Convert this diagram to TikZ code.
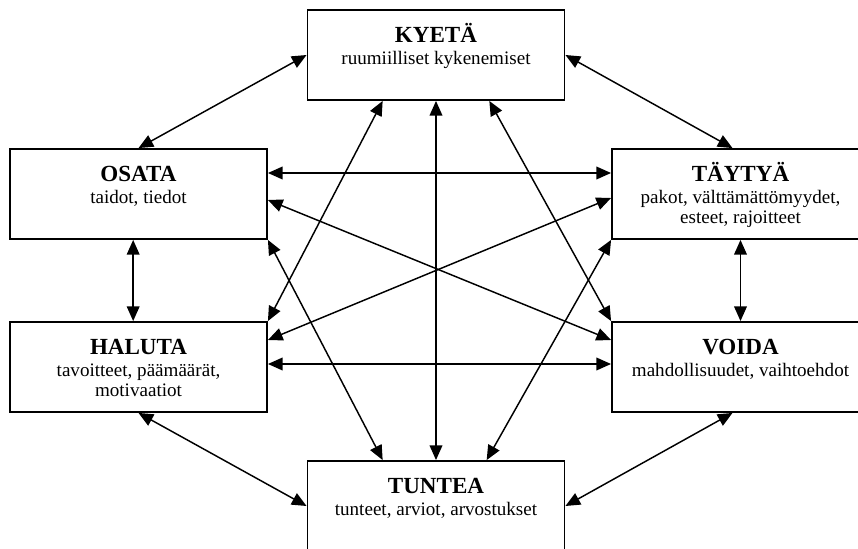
\documentclass[tikz,border=0pt]{standalone}
\usepackage{fontspec}
\setmainfont{Liberation Serif}
\usetikzlibrary{positioning, arrows.meta, calc}

\begin{document}
\begin{tikzpicture}[
    x=0.75pt, y=-0.75pt, % pixel grid of the reference, y pointing down
    box/.style={draw, line width=1.4pt, minimum width=192.75pt, minimum height=67.5pt, inner sep=0pt},
    titlestyle/.style={font=\fontsize{17.3pt}{20pt}\selectfont\bfseries, inner sep=0pt},
    textstyle/.style={font=\fontsize{14.3pt}{15pt}\selectfont, align=center, inner sep=0pt},
    link/.style={{Triangle[length=11pt, width=9.5pt]}-{Triangle[length=11pt, width=9.5pt]}, line width=1.1pt}
]
\clip (0,0) rectangle (858,549);

% Boxes
\node (kyeta_box) [box] at (436,55) {};
\node (osata_box) [box] at (138.5,194) {};
\node (taytya_box) [box] at (740.5,194) {};
\node (haluta_box) [box] at (138.5,367) {};
\node (voida_box) [box] at (740.5,367) {};
\node (tuntea_box) [box] at (436,506) {};

% Titles and descriptions (two-line texts sit on their last baseline)
\node (kyeta_title) [titlestyle, below=24.75pt of kyeta_box.north, anchor=base] {KYETÄ};
\node (kyeta_text) [textstyle, below=16.5pt of kyeta_title.base, anchor=base] {ruumiilliset kykenemiset};

\node (osata_title) [titlestyle, below=24.75pt of osata_box.north, anchor=base] {OSATA};
\node (osata_text) [textstyle, below=16.5pt of osata_title.base, anchor=base] {taidot, tiedot};

\node (taytya_title) [titlestyle, below=24.75pt of taytya_box.north, anchor=base] {TÄYTYÄ};
\node (taytya_text) [textstyle, below=31.5pt of taytya_title.base, anchor=base] {pakot, välttämättömyydet,\\ esteet, rajoitteet};

\node (haluta_title) [titlestyle, below=24.75pt of haluta_box.north, anchor=base] {HALUTA};
\node (haluta_text) [textstyle, below=31.5pt of haluta_title.base, anchor=base] {tavoitteet, päämäärät,\\ motivaatiot};

\node (voida_title) [titlestyle, below=24.75pt of voida_box.north, anchor=base] {VOIDA};
\node (voida_text) [textstyle, below=16.5pt of voida_title.base, anchor=base] {mahdollisuudet, vaihtoehdot};

\node (tuntea_title) [titlestyle, below=24.75pt of tuntea_box.north, anchor=base] {TUNTEA};
\node (tuntea_text) [textstyle, below=16.5pt of tuntea_title.base, anchor=base] {tunteet, arviot, arvostukset};

% Arrows from KYETÄ
\draw[link] (kyeta_box.west) -- (osata_box.north);
\draw[link] (kyeta_box.east) -- ([xshift=-6pt]taytya_box.north);
\draw[link] (kyeta_box.south) -- (tuntea_box.north);
\draw[link] ([xshift=-40pt]kyeta_box.south) -- (haluta_box.north east);
\draw[link] ([xshift=40pt]kyeta_box.south) -- (voida_box.north west);

% Arrows between the side boxes
\draw[link] ([yshift=15.75pt]osata_box.east) -- ([yshift=15.75pt]taytya_box.west);
\draw[link] ([yshift=-4.5pt]osata_box.east) -- ([yshift=20.25pt]voida_box.west);
\draw[link] ([yshift=-3pt]taytya_box.west) -- ([yshift=20.25pt]haluta_box.east);
\draw[link] ([yshift=2.25pt]haluta_box.east) -- ([yshift=2.25pt]voida_box.west);
\draw[link] ([xshift=-4pt]osata_box.south) -- ([xshift=-4pt]haluta_box.north);
\draw[link] (taytya_box.south) -- (voida_box.north);

% Arrows to TUNTEA
\draw[link] (haluta_box.south) -- (tuntea_box.west);
\draw[link] ([xshift=-6pt]voida_box.south) -- (tuntea_box.east);
\draw[link] (osata_box.south east) -- ([xshift=-40pt]tuntea_box.north);
\draw[link] (taytya_box.south west) -- ([xshift=38pt]tuntea_box.north);

\end{tikzpicture}
\end{document}
